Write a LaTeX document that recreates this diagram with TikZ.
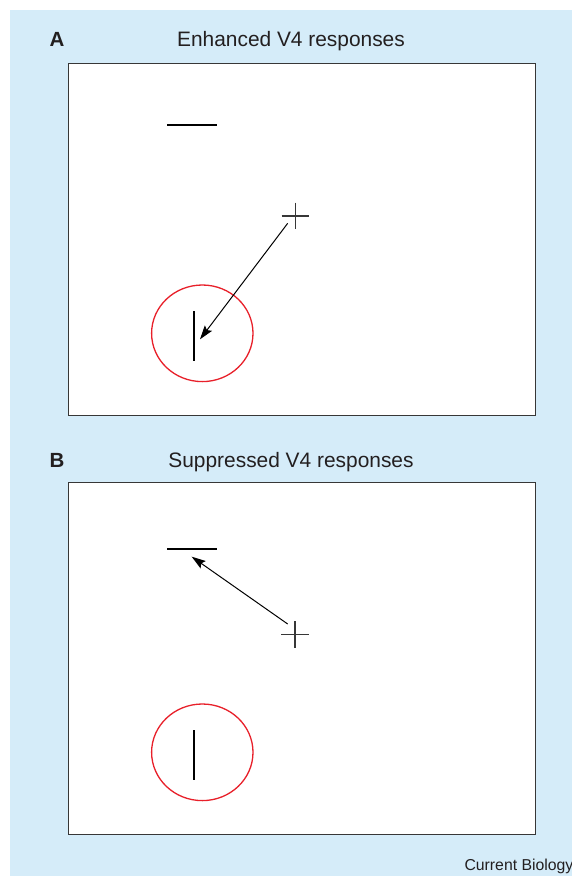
\documentclass[tikz,border=0pt]{standalone}
\usepackage{fontspec}
\setmainfont{Liberation Sans}
\usetikzlibrary{arrows.meta,shapes.geometric}
\definecolor{bgblue}{RGB}{213,236,249}
\definecolor{boxgray}{RGB}{55,55,55}
\definecolor{txtgray}{RGB}{35,31,32}
\definecolor{ringred}{RGB}{232,32,42}
\tikzset{
  panel/.style={draw=boxgray,fill=white,line width=1.3pt},
  bar/.style={draw=black,line width=1.1pt},
  plusarm/.style={draw=boxgray,line width=1.2pt},
  ring/.style={draw=ringred,line width=1.3pt},
  pointer/.style={draw=black,line width=1pt,-{Stealth[length=14pt,width=9pt,inset=2.5pt]}},
  letter/.style={anchor=base west,inner sep=0pt,text=txtgray,font=\fontsize{20.5pt}{24pt}\selectfont\bfseries},
  heading/.style={anchor=base,inner sep=0pt,text=txtgray,font=\fontsize{20.9pt}{24pt}\selectfont},
  credit/.style={anchor=base west,inner sep=0pt,text=txtgray,font=\fontsize{15.8pt}{18pt}\selectfont}
}
\begin{document}
\begin{tikzpicture}[x=1pt,y=-1pt]
\useasboundingbox (0,0) rectangle (572,876);
\fill[bgblue] (9.5,10) rectangle (572,876);
% panel A
\node[letter] (la) at (49.3,46) {A};
\node[heading] (ta) at (291,46) {Enhanced V4 responses};
\draw[panel] (68.3,63.3) rectangle (535.7,415.7);
\draw[bar] (167.3,125) -- (216.7,125);
\coordinate (pa) at (295.3,216);
\draw[plusarm] ([xshift=-13.7pt]pa) -- ([xshift=13.7pt]pa);
\draw[plusarm] ([yshift=13.3pt]pa) -- ([yshift=-13.3pt]pa);
\node[ring,ellipse,minimum width=101.4pt,minimum height=96.6pt,inner sep=0pt,draw] (ca) at (202.3,333.3) {};
\draw[bar] (194,311) -- (194,361);
\coordinate (sa) at (287.7,223.3);
\coordinate (ea) at (200,339.3);
\draw[pointer] (sa) -- (ea);
% panel B
\node[letter] (lb) at (49.3,467) {B};
\node[heading] (tb) at (291,467) {Suppressed V4 responses};
\draw[panel] (68.3,482.7) rectangle (535.7,834.3);
\draw[bar] (167.3,549) -- (216.7,549);
\coordinate (pb) at (295,634.5);
\draw[plusarm] ([xshift=-13.7pt]pb) -- ([xshift=13.7pt]pb);
\draw[plusarm] ([yshift=13.3pt]pb) -- ([yshift=-13.3pt]pb);
\node[ring,ellipse,minimum width=101.4pt,minimum height=96.6pt,inner sep=0pt,draw] (cb) at (202.3,752.3) {};
\draw[bar] (194,730) -- (194,780);
\coordinate (sb) at (287.7,624);
\coordinate (eb) at (191.7,556.7);
\draw[pointer] (sb) -- (eb);
\node[credit] (cr) at (464.3,870) {Current Biology};
\end{tikzpicture}
\end{document}
